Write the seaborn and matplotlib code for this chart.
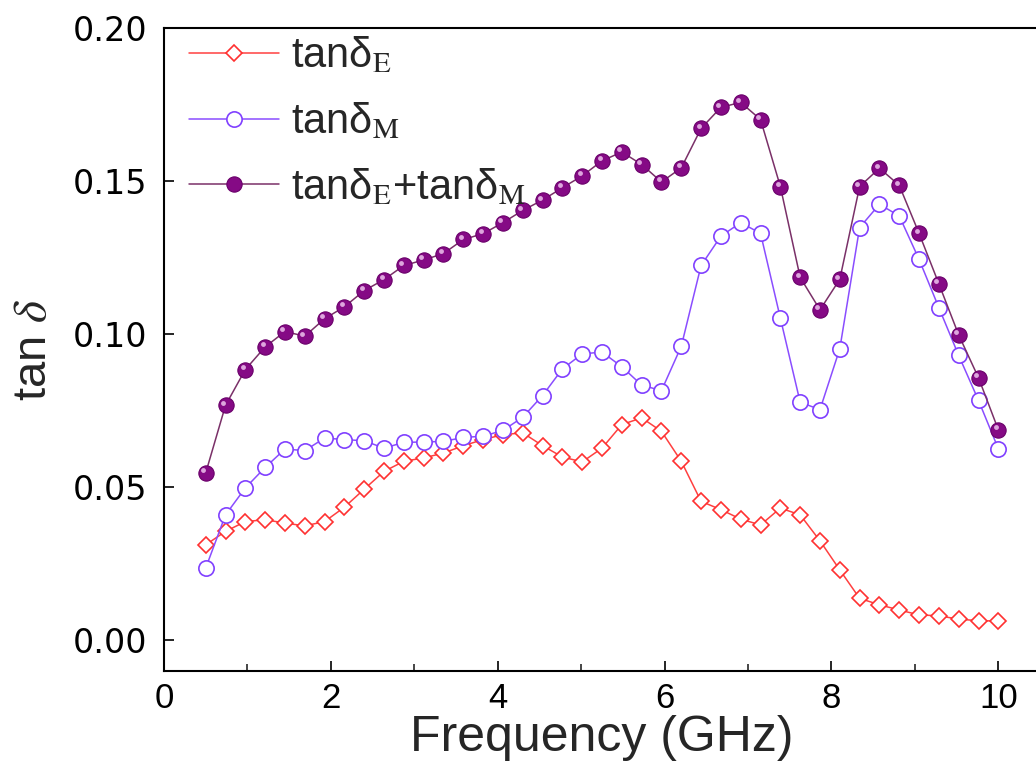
import numpy as np
import pandas as pd
import matplotlib
matplotlib.use("Agg")
import matplotlib.pyplot as plt
import matplotlib.transforms as mtransforms
import seaborn as sns

# Frecuencias (GHz), 41 puntos de 0.5 a 10
freq = [0.5, 0.7375, 0.975, 1.2125, 1.45, 1.6875, 1.925, 2.1625, 2.4, 2.6375,
        2.875, 3.1125, 3.35, 3.5875, 3.825, 4.0625, 4.3, 4.5375, 4.775, 5.0125,
        5.25, 5.4875, 5.725, 5.9625, 6.2, 6.4375, 6.675, 6.9125, 7.15, 7.3875,
        7.625, 7.8625, 8.1, 8.3375, 8.575, 8.8125, 9.05, 9.2875, 9.525, 9.7625, 10.0]

tan_e = [0.0311, 0.0355, 0.0387, 0.0393, 0.0382, 0.0373, 0.0387, 0.0434, 0.0493, 0.0551,
         0.0584, 0.0595, 0.0611, 0.0635, 0.0655, 0.0671, 0.0677, 0.0635, 0.0598, 0.0582,
         0.0627, 0.0704, 0.0726, 0.0682, 0.0584, 0.0453, 0.0426, 0.0395, 0.0376, 0.0431,
         0.0409, 0.0324, 0.0229, 0.0136, 0.0115, 0.0098, 0.0082, 0.0079, 0.0068, 0.0063, 0.0062]

tan_m = [0.0235, 0.0409, 0.0497, 0.0564, 0.0624, 0.0619, 0.0660, 0.0655, 0.0651, 0.0627,
         0.0646, 0.0647, 0.0649, 0.0662, 0.0666, 0.0685, 0.0728, 0.0799, 0.0886, 0.0935,
         0.0941, 0.0893, 0.0833, 0.0815, 0.0960, 0.1224, 0.1320, 0.1364, 0.1329, 0.1052,
         0.0777, 0.0753, 0.0952, 0.1348, 0.1424, 0.1386, 0.1244, 0.1086, 0.0930, 0.0783, 0.0625]

tan_sum = [0.0546, 0.0767, 0.0884, 0.0958, 0.1008, 0.0993, 0.1050, 0.1089, 0.1142, 0.1178,
           0.1224, 0.1242, 0.1263, 0.1309, 0.1328, 0.1364, 0.1404, 0.1438, 0.1478, 0.1517,
           0.1566, 0.1595, 0.1554, 0.1497, 0.1543, 0.1672, 0.1741, 0.1757, 0.1701, 0.1482,
           0.1185, 0.1079, 0.1179, 0.1482, 0.1542, 0.1486, 0.1329, 0.1164, 0.0997, 0.0857, 0.0687]

labels = ['tanδ$_\\mathrm{E}$', 'tanδ$_\\mathrm{M}$', 'tanδ$_\\mathrm{E}$+tanδ$_\\mathrm{M}$']

sns.set_style("ticks")
plt.rcParams['font.family'] = ['Liberation Sans', 'DejaVu Sans']
plt.rcParams['mathtext.fontset'] = 'stix'
plt.rcParams['axes.linewidth'] = 1.5

df = pd.DataFrame({'freq': freq, 'E': tan_e, 'M': tan_m, 'S': tan_sum})

fig = plt.figure(figsize=(10.36, 7.69), dpi=100)
ax = fig.add_axes([0.1583, 0.128, 0.8456, 0.8355])

sns.lineplot(data=df, x='freq', y='E', ax=ax, color='#ff4040', linewidth=1.1,
             marker='D', markersize=8.5, markerfacecolor='white',
             markeredgecolor='#ff3030', markeredgewidth=1.2, label=labels[0])
sns.lineplot(data=df, x='freq', y='M', ax=ax, color='#8a4dff', linewidth=1.1,
             marker='o', markersize=11, markerfacecolor='white',
             markeredgecolor='#8040ff', markeredgewidth=1.2, label=labels[1])
sns.lineplot(data=df, x='freq', y='S', ax=ax, color='#7a3068', linewidth=1.1,
             marker='o', markersize=11, markerfacecolor='#850a85',
             markeredgecolor='#6a006a', markeredgewidth=0.8, label=labels[2])
# brillo de las esferas
brillo = mtransforms.offset_copy(ax.transData, fig=fig, x=-2.5, y=2.5, units='dots')
sns.lineplot(data=df, x='freq', y='S', ax=ax, linestyle='none', marker='o',
             markersize=3.5, markerfacecolor='#e8b8e8', markeredgewidth=0,
             alpha=0.9, transform=brillo)

ax.set_xlim(0, 10.5)
ax.set_ylim(-0.01, 0.20)
ax.set_xticks([0, 2, 4, 6, 8, 10])
ax.set_xticks([1, 3, 5, 7, 9], minor=True)
ax.set_yticks([0.00, 0.05, 0.10, 0.15, 0.20])
ax.set_yticklabels(['0.00', '0.05', '0.10', '0.15', '0.20'])
ax.tick_params(axis='both', which='major', direction='in', length=7.5, width=1.2,
               colors='black')
ax.tick_params(axis='x', which='minor', direction='in', length=5, width=1.2)
ax.tick_params(axis='x', which='major', pad=8)
ax.tick_params(axis='y', which='major', pad=12)
for t in ax.get_xticklabels():
    t.set_fontfamily(['Liberation Sans Narrow', 'Liberation Sans'])
    t.set_fontsize(25)
for t in ax.get_yticklabels():
    t.set_fontfamily(['DejaVu Sans'])
    t.set_fontsize(24)
ax.spines['right'].set_visible(True)
for s in ax.spines.values():
    s.set_color('black')

ax.set_xlabel('Frequency (GHz)', fontsize=36, labelpad=0)
ax.set_ylabel('tan $\\delta$', fontsize=34, labelpad=12)

ax.legend(loc='upper left', bbox_to_anchor=(0.0, 1.027), frameon=False, fontsize=30,
          handlelength=2.15, handletextpad=0.3, labelspacing=0.6, borderaxespad=0.2)

fig.savefig('out.png', dpi=100)
plt.close(fig)
